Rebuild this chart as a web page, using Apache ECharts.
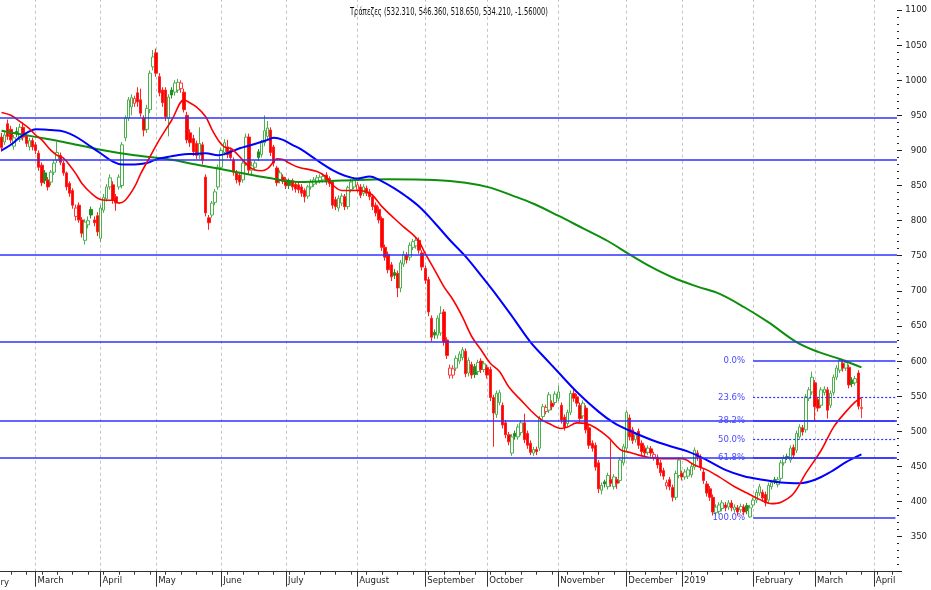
<!DOCTYPE html>
<html><head><meta charset="utf-8">
<script src="https://cdn.jsdelivr.net/npm/echarts@6/dist/echarts.min.js"></script>
<style>html,body{margin:0;padding:0;background:#fff}#c{width:931px;height:590px}</style>
</head><body><div id="c"></div>
<script>
const titleText = 'Τράπεζες (532.310, 546.360, 518.650, 534.210, -1.56000)';
const slotCount = 290;
const monthStarts = [11,32,50,71,92,115,137,157,180,202,220,243,263,282];
const monthNames = ['March','April','May','June','July','August','September','October','November','December','2019','February','March','April'];

const opens = [
919,912,938,930,906,927,916,933,921,905,
914,908,896,879,868,858,855,869,886,893,
882,868,853,843,806,822,801,772,794,816,
801,807,775,815,831,848,851,834,848,850,
918,946,962,967,982,972,946,930,958,1019,
1039,1005,986,986,946,986,983,986,988,983,
950,925,917,910,893,908,862,804,808,826,
848,876,897,905,900,886,868,865,858,882,
919,872,876,898,894,911,920,929,905,875,
858,862,858,857,857,852,851,848,843,835,
848,852,855,857,858,865,860,855,830,818,
825,834,820,844,848,844,848,839,846,841,
834,822,816,803,762,752,737,726,725,704,
738,751,748,762,764,772,754,732,716,661,
641,637,640,670,630,580,580,590,600,605,
614,583,595,592,585,600,588,591,588,548,
524,541,537,512,495,469,497,492,498,512,
497,483,469,474,476,521,528,530,540,541,
547,537,520,511,527,554,549,537,522,533,
505,483,480,455,416,428,421,431,421,431,
430,455,476,519,502,488,500,483,476,470,
475,463,463,455,444,422,431,420,406,437,
440,435,436,438,449,469,463,442,425,418,
406,384,386,390,395,392,398,388,391,388,
392,394,378,395,402,412,413,410,402,421,
431,424,433,455,464,459,477,473,492,505,
502,547,556,569,545,537,555,559,537,555,
577,587,597,590,591,573,569,583,532.31];
const closes = [
904,922,920,915,918,924,933,919,910,914,
905,900,876,854,857,848,869,882,897,883,
868,848,839,822,818,801,782,798,800,808,
797,784,818,833,848,861,829,825,862,908,
946,972,975,974,969,953,929,960,1010,1033,
1010,982,968,948,976,979,996,997,996,958,
915,911,898,893,910,886,811,797,825,841,
876,900,911,894,890,869,858,855,882,919,
872,878,882,890,911,928,932,897,882,854,
868,856,850,850,848,845,844,839,834,848,
855,858,861,862,863,855,853,822,820,832,
835,820,847,855,858,851,836,848,839,834,
820,811,801,762,748,730,720,722,704,740,
752,744,765,770,772,758,734,715,670,634,
637,661,668,627,608,590,589,604,610,616,
582,601,580,581,598,588,596,580,548,526,
554,555,509,495,485,492,493,506,512,488,
480,470,474,471,518,535,534,552,535,553,
556,516,506,527,554,547,540,518,540,502,
480,476,449,418,423,425,437,426,435,426,
459,478,527,492,487,495,480,471,469,476,
469,467,452,441,436,427,421,406,440,459,
435,442,445,450,473,463,449,430,412,406,
385,392,395,398,391,398,391,392,385,393,
385,387,391,402,413,421,405,398,423,427,
429,431,455,462,463,476,466,497,506,499,
549,559,577,535,533,559,560,530,554,577,
590,601,590,598,566,568,575,535.77,534.21];
const lows = [
898,908,915,910,901,919,912,914,905,900,
900,895,871,849,852,843,850,865,882,879,
864,843,834,817,800,797,776,766,789,803,
792,778,769,811,827,844,824,814,844,846,
913,942,950,962,962,948,920,925,953,1014,
1005,977,962,942,920,974,978,982,982,954,
910,905,892,888,888,880,806,787,804,822,
844,872,893,889,885,864,853,850,854,878,
867,866,871,885,890,906,916,892,877,849,
853,852,845,845,843,840,839,834,826,831,
844,848,851,853,854,851,848,817,815,813,
821,815,816,840,844,840,832,835,835,829,
815,806,796,757,743,725,714,717,691,698,
734,739,743,758,760,753,729,710,664,628,
632,632,636,622,603,575,575,586,596,601,
577,578,575,576,580,583,584,575,543,478,
519,537,504,490,480,465,488,488,494,483,
475,466,465,466,472,517,524,526,530,537,
543,511,501,507,523,542,535,513,518,497,
475,471,444,412,410,420,417,421,417,418,
426,451,472,487,482,484,475,466,464,466,
464,458,447,436,431,417,416,400,402,433,
430,431,432,434,445,458,444,425,407,401,
380,379,382,386,386,388,386,384,380,384,
380,382,376.8,391,398,408,400,393,398,417,
425,420,429,451,459,455,461,469,488,494,
498,543,552,515,528,533,551,518,533,551,
573,583,585,586,561,563,565,531,518.65];
const highs = [
925,928,944,935,922,933,938,940,925,918,
918,912,900,883,872,862,872,886,912,897,
885,870,856,846,823,826,805,802,806,820,
806,812,822,838,852,866,856,838,866,912,
950,976,980,978,990,988,950,965,1014,1043,
1045,1010,990,990,980,990,1000,1002,1000,988,
955,930,922,914,933,912,866,808,828,845,
880,904,916,915,904,890,872,868,886,924,
924,884,886,902,915,950,942,933,908,878,
872,866,862,860,860,856,855,852,846,851,
859,862,865,866,867,869,863,858,834,836,
839,838,850,859,862,855,852,852,850,845,
838,826,820,806,766,756,741,731,729,744,
757,755,769,774,777,776,758,736,720,665,
645,665,678,674,634,595,594,608,614,620,
618,605,599,596,602,604,600,595,592,552,
558,559,541,516,499,496,501,510,516,525,
501,487,478,478,522,539,538,556,544,557,
565,541,524,531,558,560,553,541,544,537,
509,487,484,459,427,431,441,487,439,435,
463,482,530,524,506,499,504,487,480,480,
479,471,467,459,448,431,435,424,444,463,
444,446,449,454,477,473,467,446,429,422,
410,396,399,402,399,402,402,396,395,397,
396,398,395,406,417,425,417,414,427,431,
435,435,459,466,468,480,481,501,510,509,
553,563,585,573,549,563,564,563,558,581,
594,603,601,602,595,577,579,587,546.36];

// moving averages: [slot, value]
const maRed = [[0,954],[3,950],[6,941],[9,931],[11,922],[13,915],[16,900],[18,893],[20,889],[22,879],[24,867],[26,853],[29,839],[32,830],[34,829],[36,829],[38,825],[40,829],[43,848],[45,867],[48,891],[51,915],[55,943],[59,972],[60,970],[63,962],[66,948],[68,930],[70,915],[72,905],[74,903],[75,900],[77,891],[80,877],[82,872],[84,871],[86,874],[88,884],[89,888],[91,887],[93,882],[96,876],[102,870],[105,862],[107,851],[110,843],[115,843],[118,841],[120,836],[123,820],[127,803],[130,791],[133,780],[135,770],[137,753],[140,730],[143,706],[146,687],[149,663],[152,635],[155,616],[158,597],[161,585],[164,563],[168,544],[171,530],[174,518],[177,511],[181,504],[183,506],[186,512],[189,511],[192,505],[196,492],[200,474],[203,470],[206,466],[209,463],[213,461],[220,461],[224,452],[228,445],[232,435],[237,421],[241,412],[245,403],[249,397],[252,399],[256,411],[260,440],[265,473],[269,506],[273,528],[276,542],[278,548]];
const maBlue = [[0,900],[3,908],[6,919],[9,927],[11,930],[16,929],[19,928],[22,924],[25,917],[29,905],[32,896],[36,884],[39,880],[43,880],[47,882],[50,887],[54,891],[58,894],[62,895],[66,896],[70,893],[73,896],[77,903],[81,908],[86,915],[88,918],[91,915],[94,908],[97,901],[102,886],[107,872],[111,864],[115,860],[119,863],[123,856],[127,846],[131,834],[135,820],[140,797],[145,772],[150,749],[155,722],[160,694],[165,664],[171,627],[176,603],[180,584],[186,556],[193,528],[198,512],[204,499],[210,488],[216,479],[222,471],[228,459],[234,445],[240,436],[246,431],[252,427],[258,426],[263,431],[268,442],[273,456],[278,467]];
const maGreen = [[0,928],[10,920],[20,912],[32,901],[43,893],[53,888],[64,879],[75,870],[86,861],[96,855],[110,857],[125,859],[140,858],[150,854],[158,847],[165,836],[172,824],[180,807],[188,789],[196,771],[203,752],[210,734],[217,719],[225,706],[232,696],[240,677],[248,655],[257,627],[264,613],[271,603],[278,591]];

const hLines = [947, 887, 751, 627, 515.5, 462.5];
const fibHigh = 601, fibLow = 376.8;
const fibPcts = [0, 23.6, 38.2, 50, 61.8, 100];
const fibLabels = ['0.0%','23.6%','38.2%','50.0%','61.8%','100.0%'];
const fibDotted = [false, true, false, true, false, false];
const fibStart = 243, fibEnd = 289;

const FONT = "'DejaVu Sans Condensed','Liberation Sans Narrow',sans-serif";
const cats = Array.from({length: slotCount}, (_, i) => String(i));
const weekTicks = [];
for (let i = 3; i < slotCount; i += 5) if (!monthStarts.includes(i)) weekTicks.push(i);

const candles = opens.map((o, i) => {
  const c = closes[i], prev = i > 0 ? closes[i - 1] : o;
  const upBody = c >= o, upDay = c >= prev;
  let fill, stroke;
  if (upBody && upDay) { fill = '#ffffff'; stroke = '#4cb04c'; }
  else if (upBody) { fill = '#ffffff'; stroke = '#ff3a3a'; }
  else if (upDay) { fill = '#1f8f1f'; stroke = '#1f8f1f'; }
  else { fill = '#ff0000'; stroke = '#ff2020'; }
  return { value: [o, c, lows[i], highs[i]], itemStyle: { color: fill, color0: fill, borderColor: stroke, borderColor0: stroke } };
});

const lineBlue = '#3030ff';
const markData = hLines.map(v => ({ yAxis: v, lineStyle: { color: lineBlue, width: 1.5, type: 'solid' }, label: { show: false } }));
fibPcts.forEach((p, k) => {
  const lv = fibHigh - p / 100 * (fibHigh - fibLow);
  const ls = { color: lineBlue, width: fibDotted[k] ? 1.2 : 1.5, type: fibDotted[k] ? [2, 2] : 'solid' };
  const lb = { show: true, position: 'start', distance: 8, formatter: fibLabels[k], color: '#4a4aff', fontSize: 9.5, fontFamily: FONT };
  markData.push([{ coord: [fibStart, lv], lineStyle: ls, label: lb }, { coord: [fibEnd, lv], lineStyle: ls, label: lb }]);
});

// title squeezed to the narrow width of the original
const titleSize = 11;
const mctx = document.createElement('canvas').getContext('2d');
mctx.font = titleSize + 'px ' + FONT;
const titleScale = Math.min(1, 198 / mctx.measureText(titleText).width);

const chart = echarts.init(document.getElementById('c'), null, { renderer: 'canvas' });
chart.setOption({
  animation: false,
  backgroundColor: '#ffffff',
  grid: [
    { left: 0, right: 34, top: 10, bottom: 18.3 },
    { left: 0, right: 34, top: 0, bottom: 18.3 }
  ],
  graphic: [
    { type: 'text', x: 449, y: 12, scaleX: titleScale, style: { text: titleText, fill: '#111', fontSize: titleSize, fontFamily: FONT, textAlign: 'center', textVerticalAlign: 'middle' } },
    { type: 'text', x: 9, y: 583, style: { text: 'February', fill: '#222', fontSize: 9.5, fontFamily: FONT, textAlign: 'right', textVerticalAlign: 'middle' } }
  ],
  xAxis: [
    { type: 'category', data: cats, gridIndex: 0, boundaryGap: true,
      axisLine: { show: true, lineStyle: { color: '#333', width: 1 } },
      axisTick: { show: true, alignWithLabel: true, interval: (i) => monthStarts.includes(i), length: 15, lineStyle: { color: '#333' } },
      axisLabel: { show: true, interval: (i) => monthStarts.includes(i), formatter: (v, i) => monthNames[monthStarts.indexOf(i)] || '', align: 'left', padding: [0, 0, 0, 2], margin: 4, fontSize: 9.5, fontFamily: FONT, color: '#222' },
      splitLine: { show: false } },
    { type: 'category', data: cats, gridIndex: 0, position: 'bottom', boundaryGap: true,
      axisLine: { show: false },
      axisTick: { show: true, alignWithLabel: true, interval: (i) => weekTicks.includes(i), length: 3, lineStyle: { color: '#333' } },
      axisLabel: { show: false }, splitLine: { show: false } },
    { type: 'category', data: cats, gridIndex: 1, boundaryGap: true, show: false }
  ],
  yAxis: [
    { type: 'value', gridIndex: 0, position: 'right', min: 300, max: 1100, interval: 50,
      axisLine: { show: false },
      axisTick: { show: true, inside: false, length: 5, lineStyle: { color: '#222' } },
      minorTick: { show: true, splitNumber: 5, length: 2, lineStyle: { color: '#222' } },
      axisLabel: { show: true, margin: 30, align: 'right', formatter: (v) => v < 350 ? '' : String(v), fontSize: 9.5, fontFamily: FONT, color: '#222' },
      splitLine: { show: false } },
    { type: 'value', gridIndex: 1, min: 0, max: 1, show: false }
  ],
  series: [
    { type: 'line', xAxisIndex: 2, yAxisIndex: 1, data: [[0, 0.5]], showSymbol: false, lineStyle: { opacity: 0 }, z: 0, silent: true,
      markLine: { silent: true, symbol: ['none', 'none'], z: 0, label: { show: false },
        lineStyle: { color: '#c4c4c4', type: [3, 3], width: 1 },
        data: monthStarts.map(i => ({ xAxis: i })) } },
    { type: 'candlestick', xAxisIndex: 0, yAxisIndex: 0, data: candles, barWidth: 3, z: 3,
      markLine: { silent: true, symbol: ['none', 'none'], z: 5, data: markData } },
    { type: 'line', xAxisIndex: 0, yAxisIndex: 0, data: maGreen, showSymbol: false, smooth: 0.35, lineStyle: { color: '#0d8f0d', width: 2 }, z: 4, silent: true },
    { type: 'line', xAxisIndex: 0, yAxisIndex: 0, data: maBlue, showSymbol: false, smooth: 0.35, lineStyle: { color: '#0000ff', width: 2 }, z: 4, silent: true },
    { type: 'line', xAxisIndex: 0, yAxisIndex: 0, data: maRed, showSymbol: false, smooth: 0.35, lineStyle: { color: '#ff0000', width: 1.6 }, z: 4, silent: true }
  ]
});
</script></body></html>
